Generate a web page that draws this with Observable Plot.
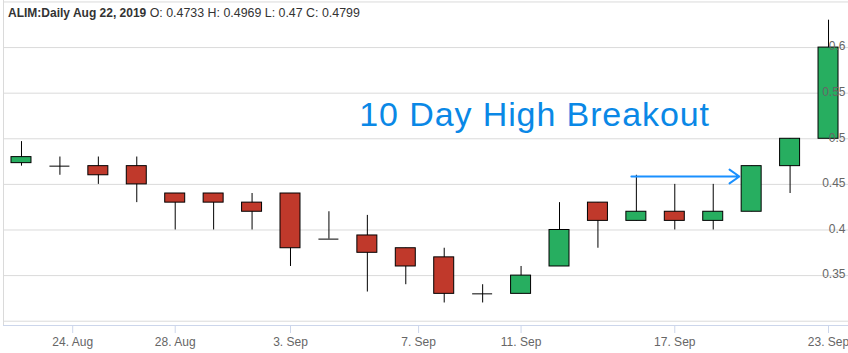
<!DOCTYPE html>
<html>
<head>
<meta charset="utf-8">
<script src="https://cdn.jsdelivr.net/npm/d3@7"></script>
<script src="https://cdn.jsdelivr.net/npm/@observablehq/plot@0.6"></script>
<style>
  html, body { margin: 0; padding: 0; background: #fff; }
  #wrap { position: relative; width: 848px; height: 353px; overflow: hidden; font-family: "Liberation Sans", Arial, sans-serif; }
  #hdr { position: absolute; left: 8px; top: 6px; font-size: 12px; line-height: 14px; color: #333; white-space: nowrap; z-index: 2; }
  #hdr b { font-weight: bold; }
  #hdr span { font-size: 12.4px; }
  svg { display: block; }
  .annot text { letter-spacing: 0.9px; }
</style>
</head>
<body>
<div id="wrap">
  <div id="hdr"></div>
</div>
<script>
// ---- data ----
const dates = ["Aug 22","Aug 23","Aug 26","Aug 27","Aug 28","Aug 29","Aug 30","Sep 3","Sep 4","Sep 5","Sep 6",
               "Sep 9","Sep 10","Sep 11","Sep 12","Sep 13","Sep 16","Sep 17","Sep 18","Sep 19","Sep 20","Sep 23"];
const opens  = [0.4733,0.47,0.47,0.47,0.44,0.44,0.43,0.44,0.39,0.394,0.38,0.37,0.33,0.33,0.36,0.43,0.41,0.42,0.41,0.42,0.47,0.50];
const highs  = [0.4969,0.48,0.48,0.48,0.44,0.44,0.44,0.44,0.42,0.416,0.38,0.38,0.34,0.36,0.43,0.43,0.46,0.45,0.45,0.47,0.50,0.63];
const lows   = [0.47,0.46,0.45,0.43,0.40,0.40,0.40,0.36,0.39,0.332,0.34,0.32,0.32,0.33,0.36,0.38,0.41,0.40,0.40,0.42,0.44,0.50];
const closes = [0.4799,0.47,0.46,0.45,0.43,0.43,0.42,0.38,0.39,0.375,0.36,0.33,0.33,0.35,0.40,0.41,0.42,0.41,0.42,0.47,0.50,0.60];

const xTickPositions = [1.333, 4, 7, 10.333, 13, 17, 21];   // ordinal positions (weekend dates interpolated)
const xTickLabels = ["24. Aug","28. Aug","3. Sep","7. Sep","11. Sep","17. Sep","23. Sep"];
const yTickValues = [0.35, 0.4, 0.45, 0.5, 0.55, 0.6];
const yTickLabels = ["0.35","0.4","0.45","0.5","0.55","0.6"];
const gridValues = [0.3, 0.35, 0.4, 0.45, 0.5, 0.55, 0.6, 0.65];

const annotationText = ["10 Day High Breakout"];
const annotationX = [13.35];
const annotationY = [0.5265];
const arrowStartX = [15.87];
const arrowEndX = [18.68];
const arrowY = [0.4587];

const headerBold = "ALIM:Daily Aug 22, 2019";
const headerRest = " O: 0.4733 H: 0.4969 L: 0.47 C: 0.4799";

// ---- build ----
const candles = dates.map((d, i) => ({i, date: d, open: opens[i], high: highs[i], low: lows[i], close: closes[i]}));
const bodies = candles.filter(c => c.open !== c.close);
const dojis = candles.filter(c => c.open === c.close);
const half = 0.26;
const green = "#27ae60", red = "#c0392b";
const labelMap = new Map(xTickPositions.map((p, k) => [p, xTickLabels[k]]));
const yLabelMap = new Map(yTickValues.map((v, k) => [v, yTickLabels[k]]));
const font = "Liberation Sans, Arial, sans-serif";

const chart = Plot.plot({
  width: 848,
  height: 353,
  marginLeft: 3,
  marginRight: 0,
  marginTop: 0,
  marginBottom: 28,
  style: {fontFamily: font, background: "transparent"},
  x: {type: "linear", domain: [-0.468, 21.52], axis: null},
  y: {type: "linear", domain: [0.2953, 0.6516], axis: null},
  marks: [
    Plot.ruleY(gridValues, {stroke: "#dadada", strokeWidth: 1}),
    Plot.frame({anchor: "left", stroke: "#dadada"}),
    Plot.ruleX(candles, {x: "i", y1: "low", y2: "high", stroke: "#000", strokeWidth: 1}),
    Plot.rect(bodies, {
      x1: d => d.i - half, x2: d => d.i + half,
      y1: "open", y2: "close",
      fill: d => d.close > d.open ? green : red,
      stroke: "#000", strokeWidth: 1
    }),
    Plot.ruleY(dojis, {y: "open", x1: d => d.i - half, x2: d => d.i + half, stroke: "#000", strokeWidth: 1}),
    Plot.frame({anchor: "bottom", stroke: "#ccd6eb"}),
    Plot.axisX(xTickPositions, {
      tickSize: 8, tickPadding: 4, stroke: "#ccd6eb", strokeOpacity: 1,
      tickFormat: d => labelMap.get(d), fill: "#666", fontSize: 12
    }),
    Plot.axisY(yTickValues, {
      anchor: "right", tickSize: 0, tickPadding: -3, textAnchor: "end", dy: -1,
      tickFormat: d => yLabelMap.get(d), fill: "#666", fontSize: 12
    }),
    Plot.arrow(arrowStartX.map((x, k) => ({x1: x, x2: arrowEndX[k], y: arrowY[k]})), {
      x1: "x1", x2: "x2", y1: "y", y2: "y",
      stroke: "#1a90ff", strokeWidth: 2, headLength: 9, headAngle: 70
    }),
    Plot.text(annotationText.map((t, k) => ({t, x: annotationX[k], y: annotationY[k]})), {
      x: "x", y: "y", text: "t", fill: "#0a88e6", fontSize: 34, fontFamily: font, className: "annot"
    })
  ]
});

const wrap = document.getElementById("wrap");
wrap.appendChild(chart);
const hdr = document.getElementById("hdr");
const b = document.createElement("b");
b.textContent = headerBold;
hdr.appendChild(b);
const rest = document.createElement("span");
rest.textContent = headerRest;
hdr.appendChild(rest);
</script>
</body>
</html>
